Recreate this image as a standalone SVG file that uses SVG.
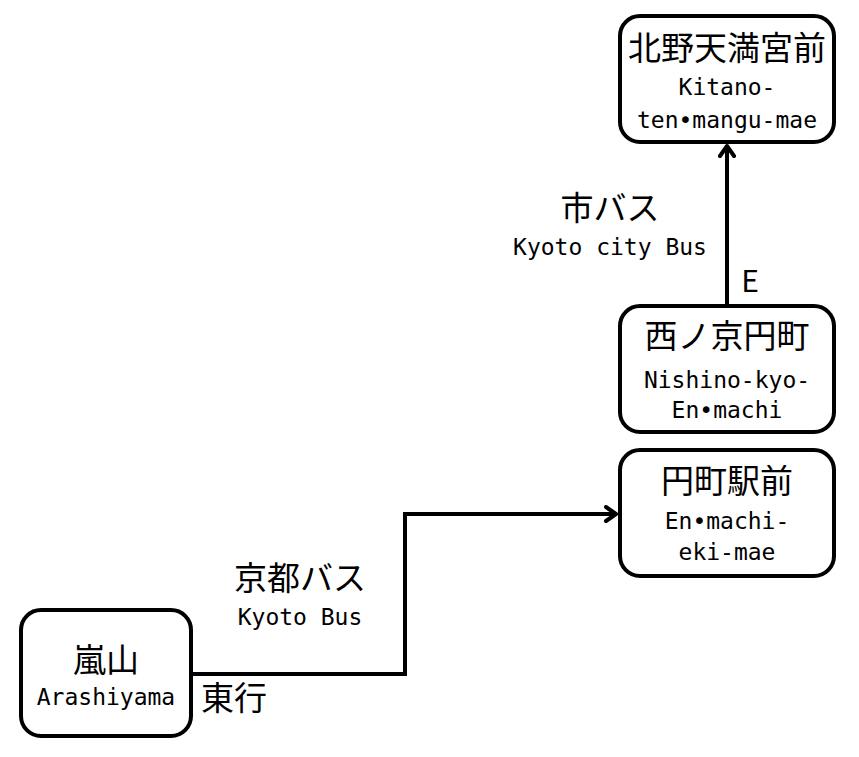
<svg xmlns="http://www.w3.org/2000/svg" width="859" height="757" viewBox="0 0 859 757">
<style>
.node{fill:#fff;stroke:#000;stroke-width:4}
.jp{font-family:"Noto Sans CJK JP","DejaVu Sans",sans-serif;font-size:33px;fill:#000;text-anchor:middle}
.la{font-family:"DejaVu Sans Mono","Liberation Mono",monospace;font-size:23px;fill:#000;text-anchor:middle}
.conn{fill:none;stroke:#000;stroke-width:4}
</style>
<defs>
<marker id="arr" markerWidth="16" markerHeight="18" refX="13" refY="9" orient="auto" markerUnits="userSpaceOnUse">
<path d="M3,2 L13,9 L3,16" fill="none" stroke="#000" stroke-width="4" stroke-linecap="round" stroke-linejoin="round"/>
</marker>
</defs>
<rect width="859" height="757" fill="#fff"/>
<g id="connectors">
<path class="conn" d="M193,674 H405 V514 H616" marker-end="url(#arr)"/>
<path class="conn" d="M727,306 V146" marker-end="url(#arr)"/>
</g>
<g id="labels">
<text class="jp" x="234" y="710">東行</text>
<text class="jp" x="300" y="590">京都バス</text>
<text class="la" x="300" y="625">Kyoto Bus</text>
<text class="jp" x="610" y="220">市バス</text>
<text class="la" x="610" y="255">Kyoto city Bus</text>
<text class="jp" x="750" y="292" style="font-size:30px">E</text>
</g>
<g id="kitano">
<rect class="node" x="620" y="16" width="214" height="126" rx="20"/>
<text class="jp" x="727" y="60">北野天満宮前</text>
<text class="la" x="727" y="95">Kitano-</text>
<text class="la" x="727" y="128">ten•mangu-mae</text>
</g>
<g id="nishinokyo">
<rect class="node" x="620" y="306" width="214" height="126" rx="20"/>
<text class="jp" x="727" y="348">西ノ京円町</text>
<text class="la" x="727" y="388">Nishino-kyo-</text>
<text class="la" x="727" y="418">En•machi</text>
</g>
<g id="enmachi">
<rect class="node" x="620" y="450" width="214" height="126" rx="20"/>
<text class="jp" x="727" y="493">円町駅前</text>
<text class="la" x="727" y="529">En•machi-</text>
<text class="la" x="727" y="560">eki-mae</text>
</g>
<g id="arashiyama">
<rect class="node" x="21" y="610" width="170" height="126" rx="20"/>
<text class="jp" x="106" y="672">嵐山</text>
<text class="la" x="106" y="705">Arashiyama</text>
</g>
</svg>
